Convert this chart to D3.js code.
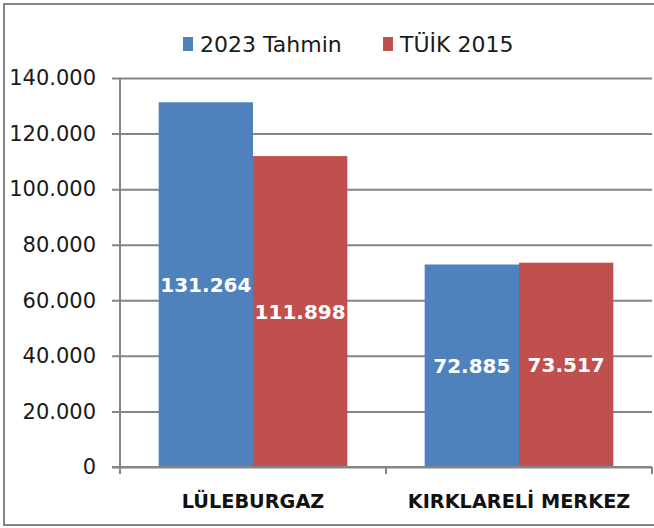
<!DOCTYPE html>
<html>
<head>
<meta charset="utf-8">
<script src="https://cdn.jsdelivr.net/npm/d3@7"></script>
<style>
  body { margin: 0; background: #fff; }
  svg { display: block; font-family: "DejaVu Sans", sans-serif; }
</style>
</head>
<body>
<svg id="chart" width="654" height="528"></svg>
<script>
// chart data
var categories = [ "LÜLEBURGAZ", "KIRKLARELİ MERKEZ" ];
var seriesNames = [ "2023 Tahmin", "TÜİK 2015" ];
var tahmin2023 = [ 131264, 72885 ];
var tuik2015 = [ 111898, 73517 ];
var yTicks = [ 0, 20000, 40000, 60000, 80000, 100000, 120000, 140000 ];
var colors = [ "#4f81bd", "#c0504d" ];

var seriesValues = [ tahmin2023, tuik2015 ];
var locale = d3.formatLocale( { decimal: ",", thousands: ".", grouping: [3], currency: ["", ""] } );
var fmt = locale.format( ",d" );

var svg = d3.select( "#chart" );
var gray = "#858585";

// outer chart frame (right side runs off the picture)
svg.append( "rect" ).attr( "x", 4 ).attr( "y", 4 )
    .attr( "width", 700 ).attr( "height", 521 )
    .attr( "fill", "none" ).attr( "stroke", gray ).attr( "stroke-width", 2 );

var plotLeft = 120, plotRight = 652, plotTop = 78, plotBottom = 467;

var y = d3.scaleLinear().domain( [0, 140000] ).range( [plotBottom, plotTop] );
var x0 = d3.scaleBand().domain( categories ).range( [plotLeft, plotRight] );
var x1 = d3.scaleBand().domain( seriesNames ).range( [0, x0.bandwidth()] )
    .paddingInner( 0 ).paddingOuter( 0.41 );

// gridlines + labels: axis placed at the right edge, ticks reach back past the y axis
var yAxis = svg.append( "g" )
    .attr( "transform", "translate(" + plotRight + ",0)" )
    .call( d3.axisLeft( y ).tickValues( yTicks ).tickFormat( fmt )
        .tickSize( plotRight - plotLeft + 8 ).tickPadding( 16 ) );
yAxis.select( ".domain" ).remove();
yAxis.selectAll( "line" ).attr( "stroke", gray ).attr( "stroke-width", 2 );
yAxis.selectAll( "text" ).attr( "font-size", 21 ).attr( "fill", "#1a1a1a" )
    .attr( "font-family", "DejaVu Sans, sans-serif" );

// vertical y axis line
svg.append( "line" ).attr( "x1", plotLeft ).attr( "x2", plotLeft )
    .attr( "y1", plotTop ).attr( "y2", plotBottom + 7 )
    .attr( "stroke", gray ).attr( "stroke-width", 2 );

// bars
var groups = svg.selectAll( "g.cat" ).data( categories ).enter().append( "g" )
    .classed( "cat", true )
    .attr( "transform", d => "translate(" + x0( d ) + ",0)" );

groups.each( function( cat, ci ) {
    var g = d3.select( this );
    seriesNames.forEach( function( s, si ) {
        var v = seriesValues[si][ci];
        g.append( "rect" )
            .attr( "x", x1( s ) ).attr( "width", x1.bandwidth() )
            .attr( "y", y( v ) ).attr( "height", y( 0 ) - y( v ) )
            .attr( "fill", colors[si] );
        g.append( "text" )
            .attr( "x", x1( s ) + x1.bandwidth() / 2 )
            .attr( "y", ( y( v ) + y( 0 ) ) / 2 )
            .attr( "text-anchor", "middle" ).attr( "dominant-baseline", "central" )
            .attr( "font-size", 20 ).attr( "font-weight", "bold" ).attr( "fill", "#fff" )
            .text( fmt( v ) );
    } );
} );

// x axis line and category boundary ticks
svg.append( "line" ).attr( "x1", plotLeft - 8 ).attr( "x2", plotRight )
    .attr( "y1", plotBottom ).attr( "y2", plotBottom )
    .attr( "stroke", gray ).attr( "stroke-width", 2 );
var bounds = categories.map( c => x0( c ) ).concat( [ plotRight ] );
svg.selectAll( "line.xtick" ).data( bounds ).enter().append( "line" )
    .attr( "x1", d => d ).attr( "x2", d => d )
    .attr( "y1", plotBottom ).attr( "y2", plotBottom + 7 )
    .attr( "stroke", gray ).attr( "stroke-width", 2 );

// category labels
svg.selectAll( "text.cat" ).data( categories ).enter().append( "text" )
    .attr( "x", d => x0( d ) + x0.bandwidth() / 2 ).attr( "y", 501 )
    .attr( "text-anchor", "middle" ).attr( "dominant-baseline", "central" )
    .attr( "font-size", 19.3 ).attr( "font-weight", "bold" ).attr( "fill", "#111" )
    .text( d => d );

// legend
var legendX = [ 183, 383 ];
var legend = svg.selectAll( "g.legend" ).data( seriesNames ).enter().append( "g" )
    .attr( "transform", (d, i) => "translate(" + legendX[i] + ",44)" );
legend.append( "rect" ).attr( "x", 0 ).attr( "y", -7 )
    .attr( "width", 10 ).attr( "height", 14 )
    .attr( "fill", (d, i) => colors[i] );
legend.append( "text" ).attr( "x", 17 ).attr( "y", 0 )
    .attr( "dominant-baseline", "central" )
    .attr( "font-size", 22 ).attr( "fill", "#1a1a1a" )
    .text( d => d );
</script>
</body>
</html>
